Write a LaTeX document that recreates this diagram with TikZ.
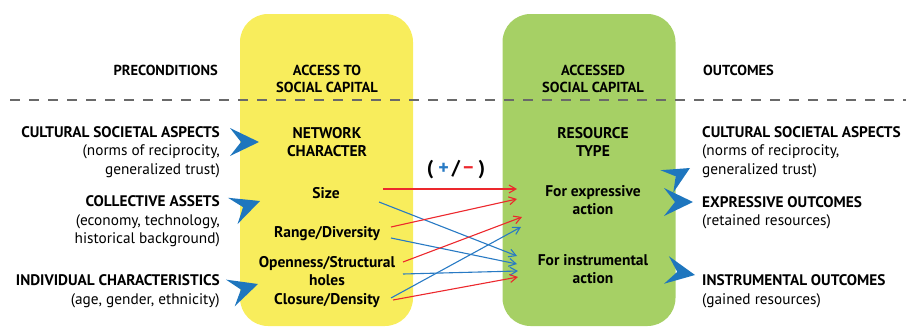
\documentclass[tikz,border=0pt]{standalone}
\usepackage{fontspec}
\setmainfont{PT Sans}
\usetikzlibrary{arrows.meta}
\definecolor{ybox}{RGB}{248,237,92}
\definecolor{gbox}{RGB}{166,208,101}
\definecolor{chevblue}{RGB}{30,118,190}
\definecolor{lred}{RGB}{236,40,45}
\definecolor{lblue}{RGB}{40,122,196}
\definecolor{dashgray}{RGB}{105,105,105}
\begin{document}
\begin{tikzpicture}[x=1pt,y=-1pt,
  panel/.style={inner sep=0pt, rounded corners=28pt, minimum width=173pt, minimum height=312pt},
  hdr/.style={inner sep=0pt, align=center, font=\bfseries\fontsize{14.5}{17}\selectfont},
  mid/.style={inner sep=0pt, align=center, font=\bfseries\fontsize{15.5}{18}\selectfont},
  side/.style={inner sep=0pt, font=\fontsize{15.3}{18.5}\selectfont},
  redarr/.style={draw=lred, line width=1.1pt, -{Straight Barb[length=7pt,width=8pt]}},
  bluearr/.style={draw=lblue, line width=1.1pt, -{Straight Barb[length=7pt,width=8pt]}},
  dline/.style={draw=dashgray, line width=1.4pt, dash pattern=on 10pt off 9pt},
  chev/.pic={\fill[chevblue] (0,0) -- (-29,-14) -- (-18,0) -- (-29,14) -- cycle;}
]
\useasboundingbox (0,0) rectangle (906,327);

% panels
\node[panel, fill=ybox] (ypanel) at (326.5,170) {};
\node[panel, fill=gbox] (gpanel) at (589,170) {};

% dashed separator
\coordinate (d1) at (10,100);
\coordinate (d2) at (906,100);
\draw[dline] (d1) -- (d2);

% headers
\node[hdr, anchor=east] (pre) at (218,70) {PRECONDITIONS};
\node[hdr] (acc) at (327,78.5) {ACCESS TO\\SOCIAL CAPITAL};
\node[hdr] (accd) at (593,78.5) {ACCESSED\\SOCIAL CAPITAL};
\node[hdr, anchor=west] (out) at (703,70) {OUTCOMES};

% left side
\node[side, anchor=east, align=right] (l1) at (220,152) {\textbf{CULTURAL SOCIETAL ASPECTS}\\(norms of reciprocity,\\generalized trust)};
\node[side, anchor=east, align=right] (l2) at (220,221.5) {\textbf{COLLECTIVE ASSETS}\\(economy, technology,\\historical background)};
\node[side, anchor=east, align=right] (l3) at (220,291) {\textbf{INDIVIDUAL CHARACTERISTICS}\\(age, gender, ethnicity)};

% yellow panel content
\node[mid] (netw) at (327,142) {NETWORK\\CHARACTER};
\node[mid] (size) at (326,193) {Size};
\node[mid] (range) at (327,234) {Range/Diversity};
\node[mid] (open) at (327,271) {Openness/Structural\\holes};
\node[mid] (close) at (327,301) {Closure/Density};

% green panel content
\node[mid] (rtype) at (593,142) {RESOURCE\\TYPE};
\node[mid] (expr) at (593,200) {For expressive\\action};
\node[mid] (instr) at (593,269.5) {For instrumental\\action};

% right side
\node[side, anchor=west, align=left] (r1) at (702,152) {\textbf{CULTURAL SOCIETAL ASPECTS}\\(norms of reciprocity,\\generalized trust)};
\node[side, anchor=west, align=left] (r2) at (702,212.5) {\textbf{EXPRESSIVE OUTCOMES}\\(retained resources)};
\node[side, anchor=west, align=left] (r3) at (702,291) {\textbf{INSTRUMENTAL OUTCOMES}\\(gained resources)};

% sign legend
\node[inner sep=0pt, font=\bfseries\fontsize{20}{20}\selectfont] (pm) at (456,170) {(\kern5pt\textcolor{lblue}{+}\kern3pt/\kern3pt\textcolor{lred}{−}\kern5pt)};

% chevrons
\pic[rotate=0] at (259,142) {chev};
\pic[rotate=20] at (260,201) {chev};
\pic[rotate=18] at (258,284) {chev};
\pic[rotate=30, scale=0.92] at (690,168) {chev};
\pic[rotate=0] at (693,202) {chev};
\pic[rotate=-10] at (695,275) {chev};

% connector end points
\coordinate (sR) at (383,189);
\coordinate (sB) at (379,202);
\coordinate (rR) at (391,227);
\coordinate (rB) at (391,238);
\coordinate (oR) at (403,262);
\coordinate (oB) at (403,274);
\coordinate (cB) at (391,298);
\coordinate (cR) at (393,300);
\coordinate (e1) at (517,189);
\coordinate (e2) at (517,199);
\coordinate (e3) at (522,217);
\coordinate (e4) at (521,227);
\coordinate (i1) at (517,256);
\coordinate (i2) at (517,264);
\coordinate (i3) at (518,271);
\coordinate (i4) at (518,277);

\draw[redarr] (sR) -- (e1);
\draw[bluearr] (sB) -- (i1);
\draw[redarr] (rR) -- (e2);
\draw[bluearr] (rB) -- (i2);
\draw[redarr] (oR) -- (e3);
\draw[bluearr] (oB) -- (i3);
\draw[bluearr] (cB) -- (e4);
\draw[redarr] (cR) -- (i4);
\end{tikzpicture}
\end{document}
